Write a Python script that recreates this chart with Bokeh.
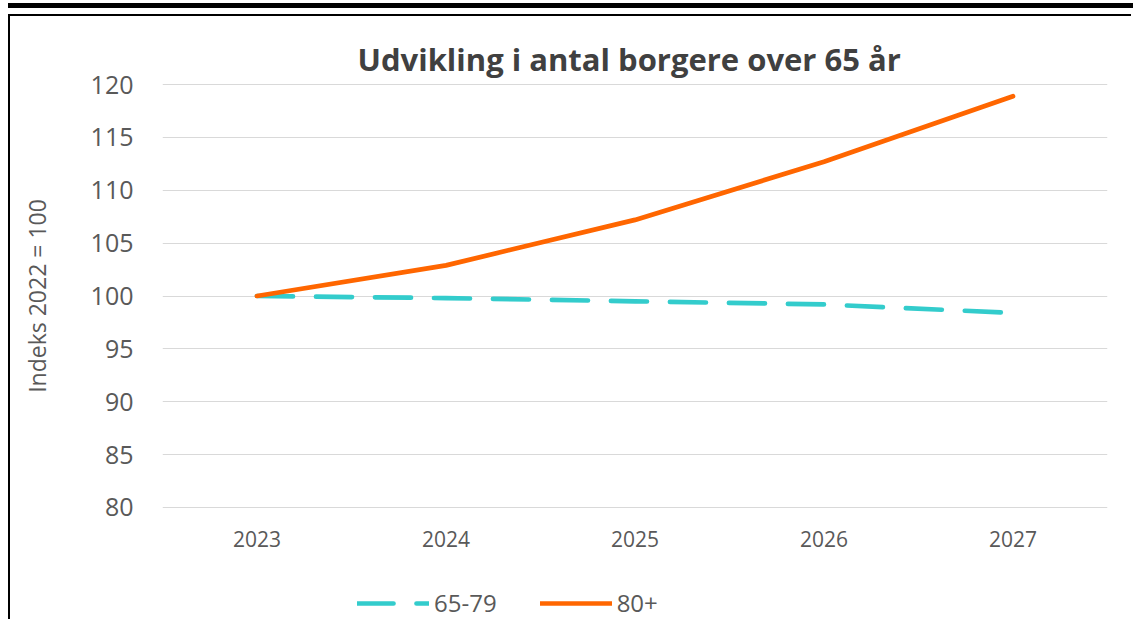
from bokeh.plotting import figure
from bokeh.models import FactorRange, Range1d, FixedTicker, Legend, LegendItem, Div
from bokeh.layouts import column
from bokeh.embed import file_html
from bokeh.resources import INLINE

years = ["2023", "2024", "2025", "2026", "2027"]
age_65_79 = [100.0, 99.8, 99.5, 99.2, 98.4]
age_80_plus = [100.0, 102.9, 107.2, 112.7, 118.9]
y_ticks = [80, 85, 90, 95, 100, 105, 110, 115, 120]
series_names = ["65-79", "80+"]

FONT = "Open Sans"
TXT = "#595959"
TEAL = "#33CCCC"
ORANGE = "#FF6600"

p = figure(
    width=1123, height=559,
    x_range=FactorRange(*years),
    y_range=Range1d(79.9, 120.1),
    output_backend="svg", toolbar_location=None,
    min_border_left=152, min_border_right=26,
    min_border_top=67, min_border_bottom=67,
    title="Udvikling i antal borgere over 65 år",
    margin=(0, 0, 0, 8),
)
p.styles = {"border-left": "2px solid black", "border-top": "2px solid black"}

p.title.text_font = FONT
p.title.text_font_size = "31px"
p.title.text_font_style = "bold"
p.title.text_color = "#404040"
p.title.align = "left"
p.title.offset = 195
p.title.standoff = 7

p.outline_line_color = None
p.xgrid.grid_line_color = None
p.ygrid.grid_line_color = "#D9D9D9"
p.ygrid.grid_line_width = 1
p.yaxis.ticker = FixedTicker(ticks=y_ticks)

for ax in (p.xaxis[0], p.yaxis[0]):
    ax.axis_line_color = None
    ax.major_tick_line_color = None
    ax.minor_tick_line_color = None
    ax.major_label_text_font = FONT
    ax.major_label_text_color = TXT

p.yaxis.major_label_text_font_size = "25px"
p.yaxis.major_label_standoff = 23
p.xaxis.major_label_text_font_size = "21px"
p.xaxis.major_label_standoff = 16

p.yaxis.axis_label = "Indeks 2022 = 100"
p.yaxis.axis_label_text_font = FONT
p.yaxis.axis_label_text_font_size = "23px"
p.yaxis.axis_label_text_font_style = "normal"
p.yaxis.axis_label_text_color = TXT
p.yaxis.axis_label_standoff = 35

p.line(x=years, y=age_65_79, line_color=TEAL, line_width=4.7,
       line_dash="36 23", line_cap="round", line_join="round")
p.line(x=years, y=age_80_plus, line_color=ORANGE, line_width=4.7,
       line_cap="round", line_join="round")

# legend strip below the chart (series drawn out of view; only legend keys show)
q = figure(
    width=1123, height=46,
    x_range=FactorRange(*years), y_range=Range1d(0, 1),
    output_backend="svg", toolbar_location=None,
    x_axis_location=None, y_axis_location=None,
    min_border=0, margin=(0, 0, 0, 8),
)
q.styles = {"border-left": "2px solid black"}
q.outline_line_color = None
q.grid.visible = False
k1 = q.line(x=years, y=age_65_79, line_color=TEAL, line_width=4.7,
            line_dash="36 23", line_cap="round")
k2 = q.line(x=years, y=age_80_plus, line_color=ORANGE, line_width=4.7,
            line_cap="round")

legend = Legend(
    items=[LegendItem(label=series_names[0], renderers=[k1]),
           LegendItem(label=series_names[1], renderers=[k2])],
    orientation="horizontal",
    location=(195, 0),
    glyph_width=72, glyph_height=30, label_height=30,
    label_standoff=5, spacing=43, padding=0, margin=0,
    border_line_color=None, background_fill_alpha=0,
    label_text_font=FONT, label_text_font_size="24px", label_text_color=TXT,
)
q.add_layout(legend, "center")

bar = Div(text="", width=1125, height=11, margin=(3, 0, 0, 8),
          styles={"border-top": "5px solid black", "box-sizing": "border-box"})

layout = column(bar, p, q, spacing=0)
open("out.html", "w").write(file_html(layout, INLINE))
